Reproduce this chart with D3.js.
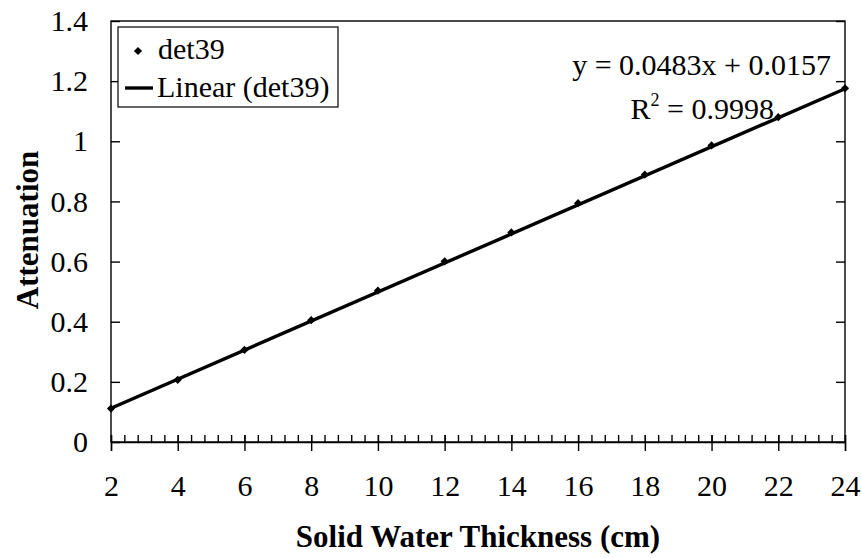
<!DOCTYPE html>
<html>
<head>
<meta charset="utf-8">
<script src="https://cdn.jsdelivr.net/npm/d3@7"></script>
<style>
  html, body { margin: 0; padding: 0; background: #fff; }
  svg { display: block; }
  text { font-family: "Liberation Serif", "Times New Roman", serif; fill: #000; }
</style>
</head>
<body>
<svg id="chart" width="862" height="558"></svg>
<script>
// Solid water thickness (cm) and measured attenuation for detector 39
const thickness = [2, 4, 6, 8, 10, 12, 14, 16, 18, 20, 22, 24];
const attenuation = [0.111, 0.207, 0.306, 0.405, 0.503, 0.601, 0.697, 0.794, 0.889, 0.986, 1.080, 1.176];
// Least-squares trendline reported on the chart
const fitSlope = 0.0483;
const fitIntercept = 0.0157;
const fitR2 = 0.9998;
const xTicks = [2, 4, 6, 8, 10, 12, 14, 16, 18, 20, 22, 24];
const yTicks = [0, 0.2, 0.4, 0.6, 0.8, 1, 1.2, 1.4];
const seriesName = "det39";

const FS = 30;
const svg = d3.select("#chart");
const plot = { left: 111, right: 845, top: 21, bottom: 442 };

const x = d3.scaleLinear().domain([2, 24]).range([plot.left, plot.right]);
const y = d3.scaleLinear().domain([0, 1.4]).range([plot.bottom, plot.top]);

// frame
svg.append("rect")
  .attr("x", plot.left).attr("y", plot.top)
  .attr("width", plot.right - plot.left).attr("height", plot.bottom - plot.top)
  .attr("fill", "none").attr("stroke", "#000").attr("stroke-width", 1.4);

// x axis: minor ticks inward, major ticks crossing the axis
const minorX = d3.range(2, 24.001, 0.4);
const xMinor = svg.append("g").attr("transform", `translate(0,${plot.bottom})`)
  .call(d3.axisTop(x).tickValues(minorX).tickSize(7).tickFormat(""));
xMinor.select(".domain").remove();
xMinor.selectAll("line").attr("stroke-width", 1.4);

const xMajor = svg.append("g").attr("transform", `translate(0,${plot.bottom})`)
  .call(d3.axisBottom(x).tickValues(xTicks).tickSize(9).tickFormat(d3.format("d")));
xMajor.select(".domain").attr("stroke-width", 1.4);
xMajor.selectAll("line").attr("stroke-width", 1.4).attr("y1", -7);
xMajor.selectAll("text").attr("font-size", FS).attr("y", 54).attr("dy", null);

// y axis: ticks inward on both sides
const yLeft = svg.append("g").attr("transform", `translate(${plot.left},0)`)
  .call(d3.axisRight(y).tickValues(yTicks).tickSize(9).tickFormat(""));
yLeft.select(".domain").remove();
yLeft.selectAll("line").attr("stroke-width", 1.4);

const yLabels = svg.append("g").attr("transform", `translate(${plot.left},0)`)
  .call(d3.axisLeft(y).tickValues(yTicks).tickSize(0).tickPadding(23).tickFormat(d => d3.format("~g")(d)));
yLabels.select(".domain").remove();
yLabels.selectAll("text").attr("font-size", FS);

const yRight = svg.append("g").attr("transform", `translate(${plot.right},0)`)
  .call(d3.axisLeft(y).tickValues(yTicks).tickSize(9).tickFormat(""));
yRight.select(".domain").remove();
yRight.selectAll("line").attr("stroke-width", 1.4);

// trendline
svg.append("line")
  .attr("x1", x(2)).attr("y1", y(fitSlope * 2 + fitIntercept))
  .attr("x2", x(24)).attr("y2", y(fitSlope * 24 + fitIntercept))
  .attr("stroke", "#000").attr("stroke-width", 3.4);

// data markers: small diamonds (squares turned 45 degrees)
const marker = d3.symbol().type(d3.symbolSquare).size(34);
svg.append("g").selectAll("path")
  .data(thickness.map((t, i) => [t, attenuation[i]]))
  .join("path")
  .attr("d", marker)
  .attr("transform", d => `translate(${x(d[0])},${y(d[1])}) rotate(45)`)
  .attr("fill", "#000");

// axis titles
svg.append("text")
  .attr("x", 478).attr("y", 547)
  .attr("text-anchor", "middle").attr("font-size", 31).attr("font-weight", "bold")
  .text("Solid Water Thickness (cm)");

svg.append("text")
  .attr("transform", `translate(38,230) rotate(-90)`)
  .attr("text-anchor", "middle").attr("font-size", 31).attr("font-weight", "bold")
  .text("Attenuation");

// legend
const lg = svg.append("g");
lg.append("rect").attr("x", 118).attr("y", 27).attr("width", 220).attr("height", 80)
  .attr("fill", "#fff").attr("stroke", "#000").attr("stroke-width", 1.2);
lg.append("path").attr("d", marker).attr("transform", "translate(138,51) rotate(45)").attr("fill", "#000");
lg.append("text").attr("x", 158).attr("y", 59).attr("font-size", FS).text(seriesName);
lg.append("line").attr("x1", 125).attr("x2", 153).attr("y1", 88).attr("y2", 88)
  .attr("stroke", "#000").attr("stroke-width", 3.4);
lg.append("text").attr("x", 157).attr("y", 97).attr("font-size", FS).text(`Linear (${seriesName})`);

// trendline equation and R²
svg.append("text").attr("x", 831).attr("y", 75).attr("text-anchor", "end").attr("font-size", FS)
  .text(`y = ${fitSlope}x + ${fitIntercept}`);
const r2 = svg.append("text").attr("x", 774).attr("y", 119).attr("text-anchor", "end").attr("font-size", FS);
r2.append("tspan").text("R");
r2.append("tspan").attr("font-size", 18).attr("dy", -13).text("2");
r2.append("tspan").attr("dy", 13).text(` = ${fitR2}`);
</script>
</body>
</html>
